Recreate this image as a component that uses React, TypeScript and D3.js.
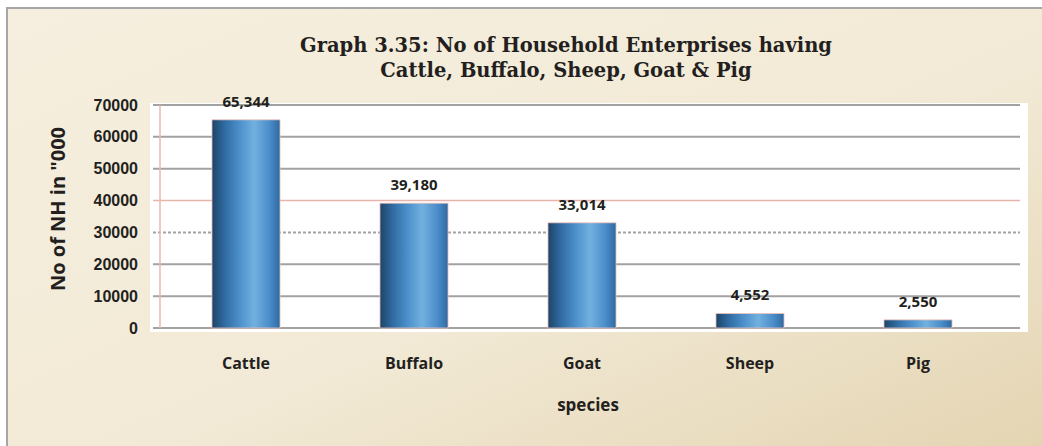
import React from "react";
import * as d3 from "d3";

const categories = ["Cattle", "Buffalo", "Goat", "Sheep", "Pig"];
const values = [65344, 39180, 33014, 4552, 2550];
const yTicks = [0, 10000, 20000, 30000, 40000, 50000, 60000, 70000];
const titleLines = [
  "Graph 3.35: No of Household Enterprises having",
  "Cattle, Buffalo, Sheep, Goat & Pig",
];
const yTitle = 'No of NH in "000';
const xTitle = "species";

const W = 1042;
const H = 446;

export default function App() {
  const x = d3.scaleBand<string>().domain(categories).range([162, 1002]).padding(0);
  const y = d3.scaleLinear().domain([0, 70000]).range([328, 105]);
  const barW = x.bandwidth() * 0.405;
  const fmt = d3.format(",");
  const sans = "'Open Sans', 'Noto Sans', sans-serif";

  return (
    <svg
      width={W}
      height={H}
      style={{ position: "absolute", left: 0, top: 0 }}
    >
      <defs>
        <linearGradient id="bg" x1="0" y1="0" x2="1" y2="1">
          <stop offset="0" stopColor="#f6efdf" />
          <stop offset="0.55" stopColor="#f2ead6" />
          <stop offset="1" stopColor="#e3d3b0" />
        </linearGradient>
        <linearGradient id="bar" x1="0" y1="0" x2="1" y2="0">
          <stop offset="0" stopColor="#1d4468" />
          <stop offset="0.18" stopColor="#2f6aa0" />
          <stop offset="0.4" stopColor="#4b8fca" />
          <stop offset="0.62" stopColor="#72b0e0" />
          <stop offset="0.85" stopColor="#4a8cc8" />
          <stop offset="1" stopColor="#2e6aa2" />
        </linearGradient>
      </defs>
      <rect x={0} y={0} width={W} height={H} fill="#ffffff" />
      <rect x={7} y={8} width={W + 10} height={H + 10} fill="url(#bg)" stroke="#a6a6a6" strokeWidth={2} />

      {titleLines.map((t, i) => (
        <text
          key={t}
          x={566}
          y={52 + i * 25}
          textAnchor="middle"
          fontFamily="'DejaVu Serif', Georgia, serif"
          fontWeight="bold"
          fontSize={19.5}
          fill="#231f20"
        >
          {t}
        </text>
      ))}

      <rect x={150} y={103} width={878} height={229} fill="#ffffff" />

      {yTicks.map((t) => (
        <line
          key={"g" + t}
          x1={153}
          x2={1020}
          y1={y(t)}
          y2={y(t)}
          stroke={t === 40000 ? "#e6b4aa" : "#a2a2a2"}
          strokeWidth={t === 40000 ? 1.5 : 2}
          strokeDasharray={t === 30000 ? "3 2" : undefined}
        />
      ))}
      <line x1={160} x2={160} y1={y(70000)} y2={y(0)} stroke="#e9b8b0" strokeWidth={1.5} />

      {yTicks.map((t) => (
        <text
          key={"t" + t}
          x={138}
          y={y(t)}
          dy="0.35em"
          textAnchor="end"
          fontFamily="'Liberation Sans', Arial, sans-serif"
          fontWeight="bold"
          fontSize={16}
          fill="#231f20"
        >
          {t}
        </text>
      ))}

      {categories.map((c, i) => {
        const cx = (x(c) as number) + x.bandwidth() / 2;
        return (
          <g key={c}>
            <rect
              x={cx - barW / 2}
              y={y(values[i])}
              width={barW}
              height={y(0) - y(values[i])}
              fill="url(#bar)"
              stroke="#f0c0b8"
              strokeWidth={0.8}
            />
            <text
              x={cx}
              y={y(values[i]) - 13}
              textAnchor="middle"
              fontFamily={sans}
              fontWeight="bold"
              fontSize={15}
              fill="#231f20"
            >
              {fmt(values[i])}
            </text>
            <text
              x={cx}
              y={369}
              textAnchor="middle"
              fontFamily={sans}
              fontWeight="bold"
              fontSize={16}
              fill="#231f20"
            >
              {c}
            </text>
          </g>
        );
      })}

      <text
        x={588}
        y={411}
        textAnchor="middle"
        fontFamily={sans}
        fontWeight="bold"
        fontSize={17}
        fill="#231f20"
      >
        {xTitle}
      </text>
      <text
        transform="translate(65,209) rotate(-90)"
        textAnchor="middle"
        fontFamily={sans}
        fontWeight="bold"
        fontSize={20}
        fill="#231f20"
      >
        {yTitle}
      </text>
    </svg>
  );
}
